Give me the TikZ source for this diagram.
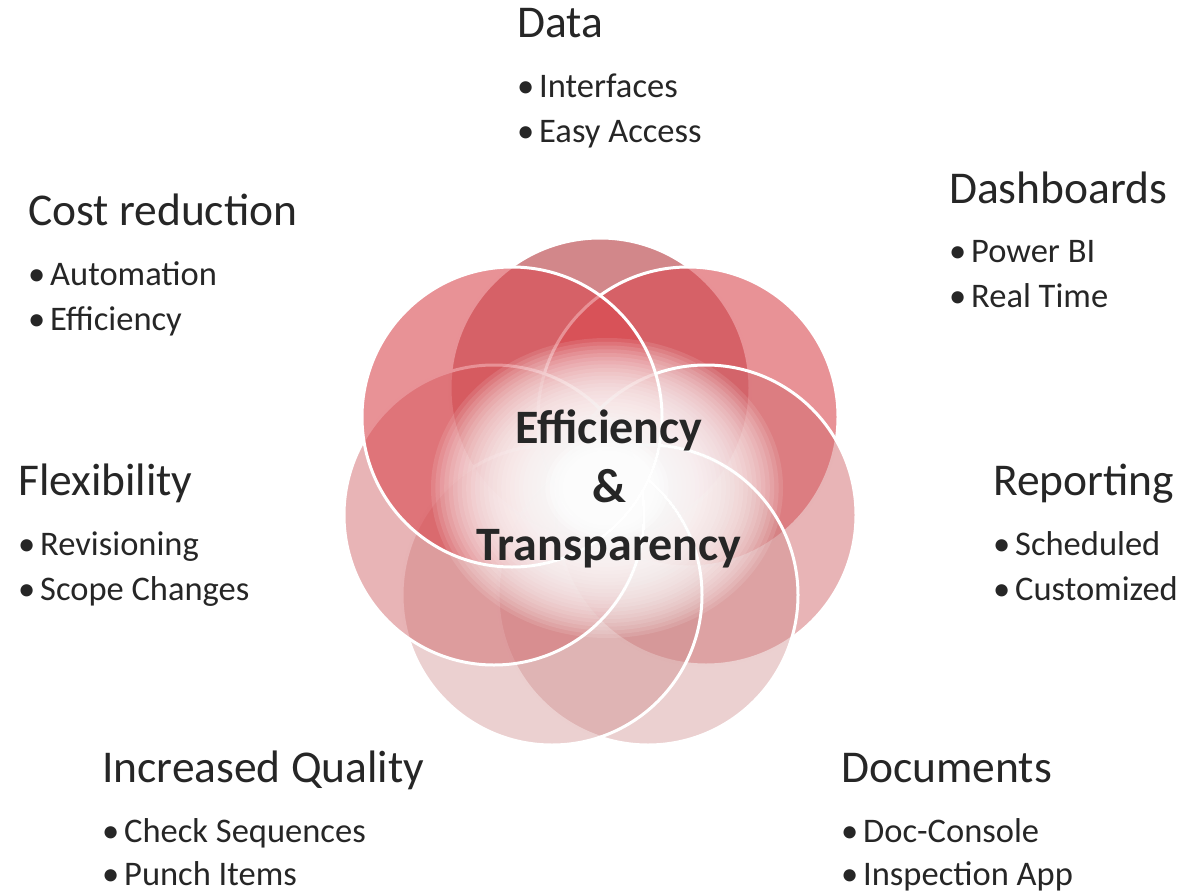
\documentclass[tikz,border=0pt]{standalone}
\usepackage{fontspec}
\setmainfont{Carlito}
\usetikzlibrary{positioning}

\definecolor{ink}{RGB}{38,38,38}
\definecolor{redtop}{RGB}{180,55,60}
\definecolor{redmid}{RGB}{217,73,80}
\definecolor{redside}{RGB}{209,105,109}
\definecolor{redlow}{RGB}{205,137,137}

\tikzstyle{petal} = [circle, minimum size=300bp, inner sep=0pt, draw=white, line width=3bp]
\tikzstyle{heading} = [font=\fontsize{45.5bp}{50bp}\selectfont, text=ink, inner sep=0pt, text height=31bp, text depth=10bp, anchor=base west]
\tikzstyle{item} = [font=\fontsize{34.5bp}{40bp}\selectfont, text=ink, inner sep=0pt, text height=24bp, text depth=8bp, anchor=north west]
\tikzstyle{core} = [font=\bfseries\fontsize{48bp}{58.5bp}\selectfont, text=ink, align=center, inner sep=0pt]
\tikzstyle{glow} = [fill=white, fill opacity=0.11]

\newcommand{\bul}{\makebox[22bp][l]{\textbullet}}

\begin{document}
\begin{tikzpicture}[x=1bp, y=-1bp]
\useasboundingbox (0,0) rectangle (1182,893);

% circles, drawn clockwise from the top
\node (pdata) [petal, fill=redtop, fill opacity=0.6] at (600,388) {};
\node (pdash) [petal, fill=redmid, fill opacity=0.6] at (688,417) {};
\node (prep) [petal, fill=redside, fill opacity=0.5] at (706,515) {};
\node (pdoc) [petal, fill=redlow, fill opacity=0.4] at (648,595) {};
\node (pqual) [petal, fill=redlow, fill opacity=0.4] at (552,595) {};
\node (pflex) [petal, fill=redside, fill opacity=0.5] at (494,515) {};
\node (pcost) [petal, fill=redmid, fill opacity=0.6] at (512,417) {};

% white glow in the middle
\coordinate (mid) at (607,488);
\foreach \k in {1,...,40}
  \fill [glow] (mid) ellipse [x radius={\k*4.4bp}, y radius={\k*3.75bp}];
\foreach \k in {1,...,14}
  \fill [glow, fill opacity=0.25] (mid) ellipse [x radius={\k*4.4bp}, y radius={\k*3.75bp}];

\node (core) [core] at (609,489) {Efficiency\\\&\\Transparency};

% labels
\node (data) [heading] at (517,37) {Data};
\node (data1) [below=26bp of data.south west, item] {\bul Interfaces};
\node (data2) [below=12.5bp of data1.south west, item] {\bul Easy Access};

\node (dash) [heading] at (949,203) {Dashboards};
\node (dash1) [below=25bp of dash.south west, item] {\bul Power BI};
\node (dash2) [below=12.5bp of dash1.south west, item] {\bul Real Time};

\node (rep) [heading] at (993,495) {Reporting};
\node (rep1) [below=26bp of rep.south west, item] {\bul Scheduled};
\node (rep2) [below=12.5bp of rep1.south west, item] {\bul Customized};

\node (doc) [heading] at (841,782) {Documents};
\node (doc1) [below=26bp of doc.south west, item] {\bul Doc-Console};
\node (doc2) [below=11bp of doc1.south west, item] {\bul Inspection App};

\node (qual) [heading] at (102,782) {Increased Quality};
\node (qual1) [below=26bp of qual.south west, item] {\bul Check Sequences};
\node (qual2) [below=11bp of qual1.south west, item] {\bul Punch Items};

\node (flex) [heading] at (18,495) {Flexibility};
\node (flex1) [below=26bp of flex.south west, item] {\bul Revisioning};
\node (flex2) [below=12.5bp of flex1.south west, item] {\bul Scope Changes};

\node (cost) [heading] at (28,225) {Cost reduction};
\node (cost1) [below=26bp of cost.south west, item] {\bul Automation};
\node (cost2) [below=12.5bp of cost1.south west, item] {\bul Efficiency};
\end{tikzpicture}
\end{document}
